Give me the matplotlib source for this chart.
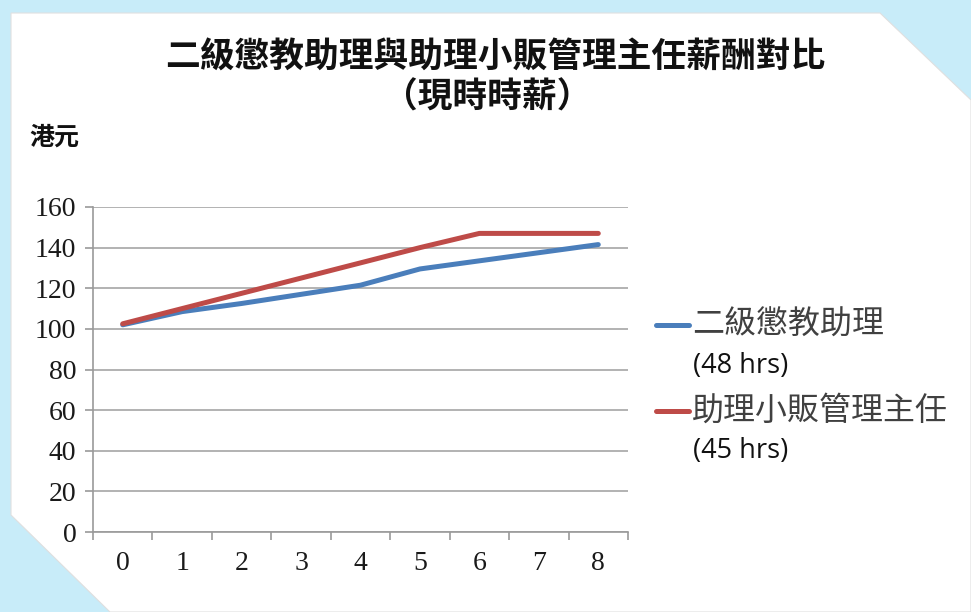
import matplotlib
matplotlib.use("Agg")
import matplotlib.pyplot as plt
from matplotlib.patches import Polygon
import numpy as np

title_line1 = "二級懲教助理與助理小販管理主任薪酬對比"
title_line2 = "（現時時薪）"
y_label = "港元"
x_values = [0, 1, 2, 3, 4, 5, 6, 7, 8]
blue_values = [102, 108.5, 112.5, 117, 121.5, 129.5, 133.5, 137.5, 141.5]
red_values = [102.5, 110, 117.5, 125, 132.5, 140, 147, 147, 147]
blue_name = "二級懲教助理"
blue_sub = "(48 hrs)"
red_name = "助理小販管理主任"
red_sub = "(45 hrs)"
y_ticks = [0, 20, 40, 60, 80, 100, 120, 140, 160]

W, H = 971, 612
fig = plt.figure(figsize=(W / 100, H / 100), dpi=100)
fig.patch.set_facecolor("#c8ecf9")

def fx(px):
    return px / W

def fy(py):
    return 1 - py / H

panel = [(11, 13), (880, 13), (971, 100), (971, 612), (110, 612), (11, 515)]
shadow = [(p[0] + 3, p[1] + 3) for p in panel]
fig.patches.append(Polygon([(fx(a), fy(b)) for a, b in shadow], closed=True,
                           transform=fig.transFigure, facecolor="#9fb6c0",
                           edgecolor="none", alpha=0.6, zorder=0))
fig.patches.append(Polygon([(fx(a), fy(b)) for a, b in panel], closed=True,
                           transform=fig.transFigure, facecolor="white",
                           edgecolor="#e0e0e0", linewidth=0.8, zorder=1))

cjk = ["Noto Sans CJK TC", "DejaVu Sans"]
ax = fig.add_axes([fx(93), fy(532), fx(628) - fx(93), fy(207) - fy(532)])
ax.set_facecolor("none")
ax.set_zorder(2)

ax.plot(x_values, blue_values, color="#4a7ebb", linewidth=3.6,
        solid_capstyle="round", zorder=3)
ax.plot(x_values, red_values, color="#be4b48", linewidth=3.6,
        solid_capstyle="round", zorder=3)

ax.set_xlim(-0.5, 8.5)
ax.set_ylim(0, 160)
ax.set_yticks(y_ticks)
ax.set_xticks(x_values)
ax.set_xticks(np.arange(-0.5, 9.0, 1.0), minor=True)
ax.tick_params(axis="x", which="major", length=0, pad=14)
ax.tick_params(axis="x", which="minor", length=6, width=1.2, color="#9a9a9a",
               direction="out")
ax.tick_params(axis="y", which="major", length=6, width=1.2, color="#9a9a9a",
               direction="out", pad=6)
for lbl in ax.get_xticklabels() + ax.get_yticklabels():
    lbl.set_fontfamily("Liberation Serif")
    lbl.set_fontsize(20)
    lbl.set_color("#1a1a1a")

ax.grid(axis="y", color="#a6a6a6", linewidth=1.2)
ax.set_axisbelow(True)
for s in ["top", "right"]:
    ax.spines[s].set_visible(False)
for s in ["left", "bottom"]:
    ax.spines[s].set_color("#9a9a9a")
    ax.spines[s].set_linewidth(1.2)

fig.text(fx(495), fy(57), title_line1, ha="center", va="center",
         fontsize=25, fontweight="bold", family=cjk, color="#111111")
fig.text(fx(487), fy(97), title_line2, ha="center", va="center",
         fontsize=25, fontweight="bold", family=cjk, color="#111111")
fig.text(fx(29), fy(138), y_label, ha="left", va="center",
         fontsize=18, fontweight="bold", family=cjk, color="#111111")

# legend
def legend_entry(y_line, y_sub, color, name, sub):
    fig.add_artist(plt.Line2D([fx(656), fx(689)], [fy(y_line), fy(y_line)],
                              transform=fig.transFigure, color=color,
                              linewidth=3.6, solid_capstyle="round"))
    fig.text(fx(692), fy(y_line), name, ha="left", va="center", fontsize=23,
             family=cjk, color="#404040")
    fig.text(fx(693), fy(y_sub), sub, ha="left", va="center", fontsize=19.5,
             family=["Open Sans", "DejaVu Sans"], color="#111111")

legend_entry(325, 366, "#4a7ebb", blue_name, blue_sub)
legend_entry(411, 451, "#be4b48", red_name, red_sub)

fig.savefig("out.png", dpi=100, facecolor=fig.get_facecolor())
